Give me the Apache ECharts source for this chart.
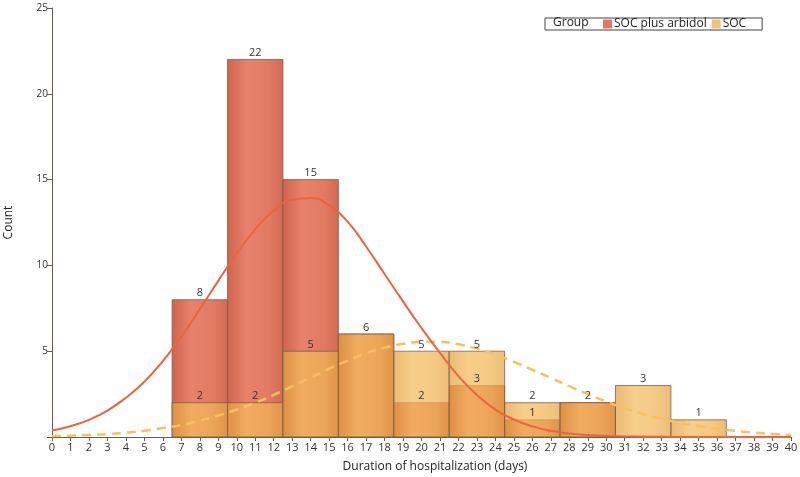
<!DOCTYPE html>
<html>
<head>
<meta charset="utf-8">
<script src="https://cdn.jsdelivr.net/npm/echarts@6/dist/echarts.min.js"></script>
<style>html,body{margin:0;padding:0;background:#fff}#c{width:800px;height:477px}</style>
</head>
<body>
<div id="c"></div>
<script>
// ---- data ----
var binEdges = [6.5, 9.5, 12.5, 15.5, 18.5, 21.5, 24.5, 27.5, 30.5, 33.5, 36.5];
var arbidolCounts = [8, 22, 15, 6, 2, 3, 1, 2, 0, 0];
var socCounts = [2, 2, 5, 6, 5, 5, 2, 2, 3, 1];
var curveX = [0,1,2,3,4,5,6,7,8,9,10,11,12,13,14,15,16,17,18,19,20,21,22,23,24,25,26,27,28,29,30,31,32,33,34,35,36,37,38,39,40];
var arbidolCurve = [0.38,0.63,1.0,1.54,2.29,3.22,4.42,5.85,7.45,9.1,10.7,12.1,13.2,13.82,13.93,13.5,12.55,11.1,9.5,7.9,6.35,4.9,3.55,2.45,1.6,1.02,0.62,0.36,0.2,0.11,0.06,0.03,0.02,0.01,0,0,0,0,0,0,0];
var socCurve = [0.06,0.08,0.12,0.17,0.25,0.36,0.52,0.7,0.95,1.25,1.6,2.0,2.45,2.95,3.47,3.98,4.45,4.88,5.2,5.43,5.54,5.54,5.4,5.15,4.8,4.38,3.92,3.44,2.96,2.5,2.07,1.68,1.35,1.07,0.83,0.64,0.48,0.36,0.26,0.18,0.12];
var yTicks = [5, 10, 15, 20, 25];

var arbidolData = [], socData = [], labelData = [];
for (var i = 0; i < arbidolCounts.length; i++) {
  arbidolData.push([binEdges[i], binEdges[i + 1], arbidolCounts[i]]);
  socData.push([binEdges[i], binEdges[i + 1], socCounts[i]]);
  labelData.push([binEdges[i], binEdges[i + 1], arbidolCounts[i]]);
  if (socCounts[i] !== arbidolCounts[i]) labelData.push([binEdges[i], binEdges[i + 1], socCounts[i]]);
}
var arbidolXY = curveX.map(function (x, i) { return [x, arbidolCurve[i]]; });
var socXY = curveX.map(function (x, i) { return [x, socCurve[i]]; });

var FONT = '"Open Sans", "Noto Sans", sans-serif';

function makeRender(fillStops) {
  return function (params, api) {
    var x0 = api.value(0), x1 = api.value(1), v = api.value(2);
    if (!v) return null;
    var p0 = api.coord([x0, v]), p1 = api.coord([x1, 0]);
    return {
      type: 'rect',
      shape: { x: p0[0], y: p0[1], width: p1[0] - p0[0], height: p1[1] - p0[1] },
      style: {
        fill: new echarts.graphic.LinearGradient(0, 0, 1, 0, fillStops),
        stroke: 'rgba(120,90,70,0.75)', lineWidth: 1
      }
    };
  };
}
function renderLabel(params, api) {
  var x0 = api.value(0), x1 = api.value(1), v = api.value(2);
  if (!v) return null;
  var p0 = api.coord([x0, v]), p1 = api.coord([x1, 0]);
  return {
    type: 'text',
    style: {
      text: String(v), x: (p0[0] + p1[0]) / 2, y: p0[1] - 1,
      align: 'center', verticalAlign: 'bottom',
      fill: '#333', fontSize: 11, fontFamily: FONT
    }
  };
}

var chart = echarts.init(document.getElementById('c'), null, { renderer: 'canvas' });
chart.setOption({
  animation: false,
  backgroundColor: '#fff',
  textStyle: { fontFamily: FONT },
  grid: { left: 52, right: 9, top: 8, bottom: 40, containLabel: false, outerBoundsMode: 'none' },
  legend: {
    data: ['SOC plus arbidol', 'SOC'],
    left: 545, top: 18,
    icon: 'rect', itemWidth: 9, itemHeight: 9, itemGap: 5,
    padding: [0, 16, 0, 58],
    borderColor: '#444', borderWidth: 1,
    textStyle: { fontSize: 12, color: '#222', fontFamily: FONT, padding: [0, 0, 0, -3] }
  },
  graphic: [{
    type: 'text', left: 553, top: 17,
    style: { text: 'Group', fontSize: 12, fill: '#222', fontFamily: FONT }
  }],
  xAxis: {
    type: 'value', min: 0, max: 40, interval: 1,
    name: 'Duration of hospitalization (days)',
    nameLocation: 'middle', nameGap: 24,
    nameTextStyle: { fontSize: 12, color: '#222', padding: [0, 0, 0, 27] },
    axisLine: { lineStyle: { color: '#6e5a4e', width: 1 } },
    axisTick: { length: 4, lineStyle: { color: '#6e5a4e' } },
    axisLabel: { fontSize: 11, color: '#333', margin: 5 },
    splitLine: { show: false }
  },
  yAxis: {
    type: 'value', min: 0, max: 25, interval: 5,
    name: 'Count', nameLocation: 'middle', nameGap: 37,
    nameTextStyle: { fontSize: 12, color: '#222' },
    axisLine: { show: true, lineStyle: { color: '#6e5a4e', width: 1 } },
    axisTick: { show: true, length: 5, lineStyle: { color: '#6e5a4e' } },
    axisLabel: {
      fontSize: 10, color: '#333', margin: 4,
      formatter: function (v) { return yTicks.indexOf(v) >= 0 ? String(v) : ''; }
    },
    splitLine: { show: false }
  },
  series: [
    {
      name: 'SOC plus arbidol', type: 'custom',
      itemStyle: { color: '#E07A62' },
      encode: { x: [0, 1], y: 2 },
      renderItem: makeRender([
        { offset: 0, color: '#CF644F' },
        { offset: 0.35, color: '#E8826A' },
        { offset: 0.75, color: '#E27A62' },
        { offset: 1, color: '#D26953' }
      ]),
      data: arbidolData, z: 2
    },
    {
      name: 'SOC', type: 'custom',
      itemStyle: { color: '#F0C474' },
      encode: { x: [0, 1], y: 2 },
      renderItem: makeRender([
        { offset: 0, color: 'rgba(226,160,62,0.72)' },
        { offset: 0.35, color: 'rgba(244,188,92,0.72)' },
        { offset: 0.75, color: 'rgba(240,180,84,0.72)' },
        { offset: 1, color: 'rgba(228,164,66,0.72)' }
      ]),
      data: socData, z: 3
    },
    {
      name: 'arbidolCurve', type: 'line', data: arbidolXY, smooth: true,
      showSymbol: false, symbol: 'none', silent: true,
      lineStyle: { color: '#EB6440', width: 2 }, z: 5
    },
    {
      name: 'socCurve', type: 'line', data: socXY, smooth: true,
      showSymbol: false, symbol: 'none', silent: true,
      lineStyle: { color: '#F7C060', width: 2.5, type: [9, 6] }, z: 4
    },
    {
      name: 'labels', type: 'custom', silent: true,
      encode: { x: [0, 1], y: 2 },
      renderItem: renderLabel,
      data: labelData, z: 6
    }
  ]
});
</script>
</body>
</html>
